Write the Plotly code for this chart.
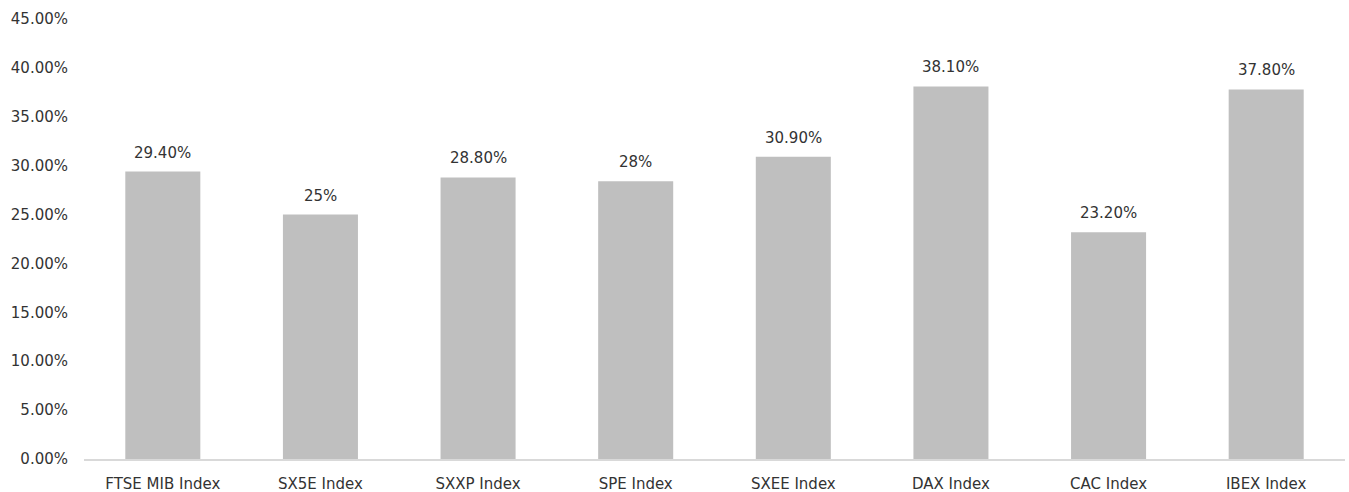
import plotly.graph_objects as go

categories = ["FTSE MIB Index", "SX5E Index", "SXXP Index", "SPE Index",
              "SXEE Index", "DAX Index", "CAC Index", "IBEX Index"]
values = [29.4, 25.0, 28.8, 28.4, 30.9, 38.1, 23.2, 37.8]
labels = ["29.40%", "25%", "28.80%", "28%", "30.90%", "38.10%", "23.20%", "37.80%"]
y_ticks = [0, 5, 10, 15, 20, 25, 30, 35, 40, 45]

FONT = "DejaVu Sans, sans-serif"
TXT = "#333333"

fig = go.Figure(go.Bar(
    x=categories, y=values,
    marker=dict(color="#BFBFBF", line=dict(width=0)),
))
for c, v, t in zip(categories, values, labels):
    fig.add_annotation(x=c, y=v, text=t, showarrow=False, yanchor="bottom",
                       yshift=8, font=dict(family=FONT, size=15, color=TXT))

fig.update_layout(
    template="none",
    width=1349, height=492,
    margin=dict(l=84, r=4, t=19, b=33, autoexpand=False),
    plot_bgcolor="white", paper_bgcolor="white",
    font=dict(family=FONT, size=15, color=TXT),
    bargap=0.524, showlegend=False,
)
fig.update_yaxes(range=[0, 45], tickvals=y_ticks,
                 ticktext=[f"{v:.2f}%" for v in y_ticks],
                 showgrid=False, zeroline=False, showline=False, ticks="",
                 ticklabelstandoff=15, automargin=False,
                 tickfont=dict(family=FONT, size=15, color=TXT))
fig.update_xaxes(showline=True, linecolor="#D9D9D9", linewidth=1.5, ticks="",
                 showgrid=False, automargin=False, ticklabelstandoff=10,
                 tickfont=dict(family=FONT, size=15, color=TXT))
fig.write_html("out.html", config={"displayModeBar": False},
               post_script="document.body.style.margin='0';")
